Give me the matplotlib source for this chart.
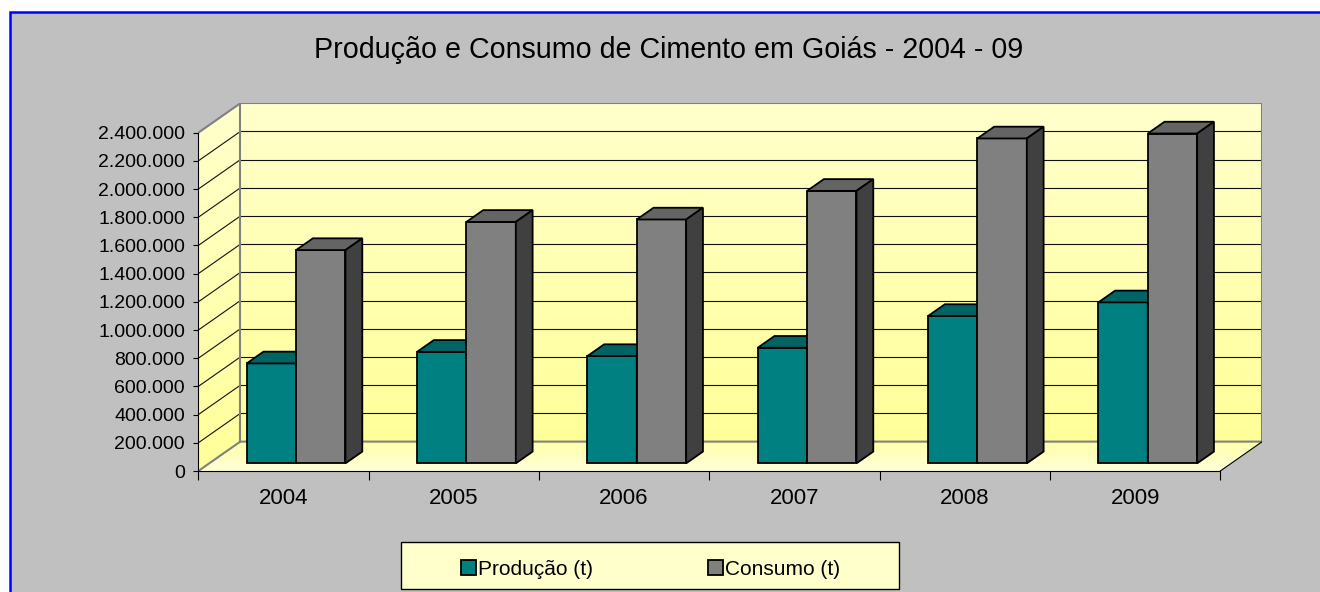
import numpy as np
import matplotlib
matplotlib.use('Agg')
import matplotlib.pyplot as plt
from matplotlib.patches import Rectangle, Polygon
from matplotlib.colors import LinearSegmentedColormap

plt.rcParams['font.family'] = ['Liberation Sans', 'DejaVu Sans']

titulo = "Produção e Consumo de Cimento em Goiás - 2004 - 09"
anos = ['2004', '2005', '2006', '2007', '2008', '2009']
producao = [709000, 791000, 761000, 820000, 1045000, 1142000]
consumo = [1513000, 1713000, 1730000, 1933000, 2305000, 2340000]
series = ['Produção (t)', 'Consumo (t)']
yticks = list(range(0, 2400001, 200000))

W, H = 1320, 592
fig = plt.figure(figsize=(W / 100, H / 100), dpi=100, facecolor='white')

# fundo cinza com borda azul (so em cima e a esquerda)
fig.add_artist(Rectangle((9.5 / W, -0.1), 1.2, 1.1 - 12.3 / H, transform=fig.transFigure,
                         facecolor='#C0C0C0', edgecolor='#0000FF', lw=1.8, zorder=-5))

# geometria do "3D" em pixels
x0px, y0px = 198.3, 471.0
cat_px = 170.33
alt_px = 338.3
dx_px, dy_px = 42.0, 29.4

n = len(anos)
ymax = 2.4e6
DX = dx_px / cat_px
DY = dy_px * ymax / alt_px

ax = fig.add_axes([x0px / W, (H - y0px) / H, (n * cat_px + dx_px) / W, (alt_px + dy_px) / H])
ax.set_xlim(-0.5, n - 0.5 + DX)
ax.set_ylim(0, ymax + DY)
ax.patch.set_visible(False)
left, right = -0.5, n - 0.5

# paredes com degrade
grad = np.linspace(0, 1, 256).reshape(-1, 1)
wall_cmap = LinearSegmentedColormap.from_list('wall', ['#FFFF99', '#FFFFCC'])
floor_cmap = LinearSegmentedColormap.from_list('floor', ['#FFFFD8', '#FFFFA8'])

ax.imshow(grad, extent=[left + DX, right + DX, DY, ymax + DY], origin='lower',
          aspect='auto', cmap=wall_cmap, zorder=0)

side = Polygon([(left, 0), (left, ymax), (left + DX, ymax + DY), (left + DX, DY)],
               closed=True, facecolor='none', edgecolor='none')
ax.add_patch(side)
im = ax.imshow(grad, extent=[left, left + DX, 0, ymax + DY], origin='lower',
               aspect='auto', cmap=wall_cmap, zorder=0)
im.set_clip_path(side)

floor = Polygon([(left, 0), (right, 0), (right + DX, DY), (left + DX, DY)],
                closed=True, facecolor='none', edgecolor='none')
ax.add_patch(floor)
im = ax.imshow(grad, extent=[left, right + DX, 0, DY], origin='lower',
               aspect='auto', cmap=floor_cmap, zorder=0)
im.set_clip_path(floor)

# linhas de grade
for v in yticks[1:-1]:
    ax.plot([left + DX, right + DX], [v + DY, v + DY], color='#111111', lw=0.8, zorder=1)
    ax.plot([left, left + DX], [v, v + DY], color='#111111', lw=0.8, zorder=1)

# bordas das paredes
gray = '#808080'
ax.plot([left + DX, left + DX, right + DX, right + DX], [DY, ymax + DY, ymax + DY, DY],
        color=gray, lw=1.5, zorder=2)
ax.plot([left, left + DX, right + DX], [0, DY, DY], color=gray, lw=1.5, zorder=2)
ax.plot([left, left + DX], [ymax, ymax + DY], color=gray, lw=1.5, zorder=2)
ax.plot([right, right + DX], [0, DY], color='black', lw=0.8, zorder=2)

# barras
w = 0.29
d0, dd = 0.26, 0.4
cores = [('#008080', '#006464', '#004C4C'), ('#808080', '#646464', '#404040')]
x = np.arange(n)
base = d0 * DY
for s, vals in enumerate([producao, consumo]):
    frente, topo, lado = cores[s]
    xl = x - w + s * w + d0 * DX + 0.01
    ax.bar(xl, vals, width=w, bottom=base, align='edge', color=frente,
           edgecolor='black', lw=1.3, zorder=3, clip_on=False)
    for i in range(n):
        a, b = xl[i], xl[i] + w
        t = base + vals[i]
        ax.add_patch(Polygon([(a, t), (b, t), (b + dd * DX, t + dd * DY), (a + dd * DX, t + dd * DY)],
                             closed=True, facecolor=topo, edgecolor='black', lw=1.3,
                             zorder=3, clip_on=False))
        ax.add_patch(Polygon([(b, base), (b, t), (b + dd * DX, t + dd * DY), (b + dd * DX, base + dd * DY)],
                             closed=True, facecolor=lado, edgecolor='black', lw=1.3,
                             zorder=3, clip_on=False))

# eixos
ax.set_yticks(yticks)
ax.set_yticklabels([f'{v:,}'.replace(',', '.') for v in yticks])
ax.set_xticks(np.arange(n + 1) - 0.5)
ax.set_xticklabels([])
ax.set_xticks(x, minor=True)
ax.set_xticklabels(anos, minor=True)
ax.tick_params(axis='y', length=3.5, width=0.8, pad=6, labelsize=14)
ax.tick_params(axis='x', which='major', length=6.5, width=0.8)
ax.tick_params(axis='x', which='minor', length=0, pad=12.5, labelsize=16)
for sp in ['top', 'right']:
    ax.spines[sp].set_visible(False)
for sp in ['left', 'bottom']:
    ax.spines[sp].set_linewidth(0.8)
ax.spines['left'].set_bounds(0, ymax)
ax.spines['bottom'].set_bounds(left, right)

# titulo
fig.text(668.5 / W, 1 - 58 / H, titulo, ha='center', va='baseline', fontsize=20.6)

# legenda
fig.add_artist(Rectangle((401 / W, 1 - 589 / H), 498 / W, 47 / H, transform=fig.transFigure,
                         facecolor='#FFFFCC', edgecolor='black', lw=1))
for lx, nome, (frente, _, _) in zip([461, 708], series, cores):
    fig.add_artist(Rectangle((lx / W, 1 - 575 / H), 15 / W, 15 / H, transform=fig.transFigure,
                             facecolor=frente, edgecolor='black', lw=1.3))
    fig.text((lx + 17) / W, 1 - 575 / H, nome, ha='left', va='baseline', fontsize=15)

fig.savefig('out.png', dpi=100)
